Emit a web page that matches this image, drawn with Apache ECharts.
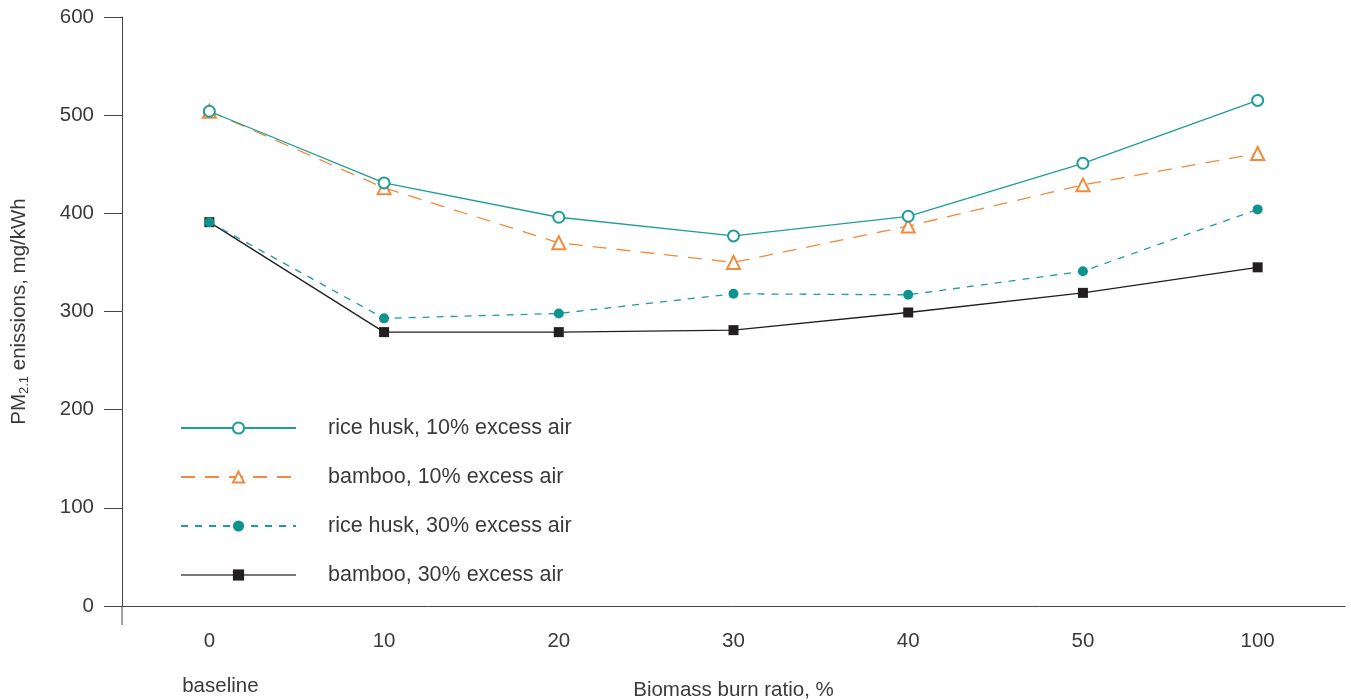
<!DOCTYPE html>
<html><head><meta charset="utf-8">
<script src="https://cdn.jsdelivr.net/npm/echarts@6/dist/echarts.min.js"></script>
<style>html,body{margin:0;padding:0;background:#fff}#c{width:1351px;height:700px}</style>
</head><body><div id="c"></div>
<script>
const categories = ['0','10','20','30','40','50','100'];
const riceHusk10 = [504, 431, 396, 377, 397, 451, 515];
const bamboo10 = [504, 426, 370, 350, 387, 429, 461];
const riceHusk30 = [391, 293, 298, 318, 317, 341, 404];
const bamboo30 = [391, 279, 279, 281, 299, 319, 345];
const seriesNames = ['rice husk, 10% excess air','bamboo, 10% excess air','rice husk, 30% excess air','bamboo, 30% excess air'];

const teal = '#1f9e98', orange = '#f08a3c', dark = '#231f20', txt = '#3a3a3a';
const font = 'Liberation Sans';
const fs = 20.5;
const chart = echarts.init(document.getElementById('c'));
chart.setOption({
  animation: false,
  textStyle: {fontFamily: font},
  grid: {left: 122, right: 6, top: 17, bottom: 94, containLabel: false, outerBoundsMode: 'none'},
  legend: {
    orient: 'vertical', left: 175, top: 412, padding: 5,
    itemWidth: 115, itemHeight: 14, itemGap: 27,
    textStyle: {fontSize: 21.5, lineHeight: 14, color: txt, fontFamily: font, padding: [0,0,0,27]},
    data: [
      {name: seriesNames[0]}, {name: seriesNames[1]}, {name: seriesNames[2]},
      {name: seriesNames[3], lineStyle: {color: '#777'}}
    ]
  },
  xAxis: {
    type: 'category', data: categories, boundaryGap: true,
    name: 'Biomass burn ratio, %', nameLocation: 'middle', nameGap: 74, nameMoveOverlap: false,
    nameTextStyle: {fontSize: fs, color: txt},
    axisLine: {lineStyle: {color: '#444', width: 1}},
    axisTick: {alignWithLabel: true, length: 15, lineStyle: {color: '#444'}},
    axisLabel: {
      fontSize: fs, color: txt, margin: 25,
      formatter: v => v === '0' ? '0\n{b|baseline}' : v,
      rich: {b: {fontSize: fs, color: txt, padding: [24,0,0,22], fontFamily: font}}
    }
  },
  yAxis: {
    type: 'value', min: 0, max: 600, interval: 100,
    name: '{a|PM}{s|2.1}{a| enissions, mg/kWh}', nameLocation: 'middle', nameGap: 91, nameRotate: 90, nameMoveOverlap: false,
    nameTextStyle: {rich: {a: {fontSize: fs, color: txt, fontFamily: font}, s: {fontSize: 13, color: txt, fontFamily: font, padding: [10,0,0,0]}}},
    axisLine: {show: true, lineStyle: {color: '#444', width: 1}},
    axisTick: {show: true, length: 18, lineStyle: {color: '#444'}},
    axisLabel: {fontSize: fs, color: txt, margin: 28},
    splitLine: {show: false}
  },
  graphic: [{type: 'line', shape: {x1: 122, y1: 606, x2: 122, y2: 625}, style: {stroke: '#444', lineWidth: 1}}],
  series: [
    {name: seriesNames[0], type: 'line', data: riceHusk10, symbol: 'emptyCircle', symbolSize: 11,
     lineStyle: {color: teal, width: 1.3}, itemStyle: {color: teal, borderWidth: 1.3}, z: 4},
    {name: seriesNames[1], type: 'line', data: bamboo10, symbol: 'emptyTriangle', symbolSize: 13,
     lineStyle: {color: orange, width: 1.3, type: [14, 10]}, itemStyle: {color: orange, borderWidth: 1.3}, z: 3},
    {name: seriesNames[2], type: 'line', data: riceHusk30, symbol: 'circle', symbolSize: 10,
     lineStyle: {color: teal, width: 1.3, type: [7, 7]}, itemStyle: {color: '#0d9490'}, z: 5},
    {name: seriesNames[3], type: 'line', data: bamboo30, symbol: 'rect', symbolSize: 10,
     lineStyle: {color: dark, width: 1.3}, itemStyle: {color: dark}, z: 2}
  ]
});
</script></body></html>
